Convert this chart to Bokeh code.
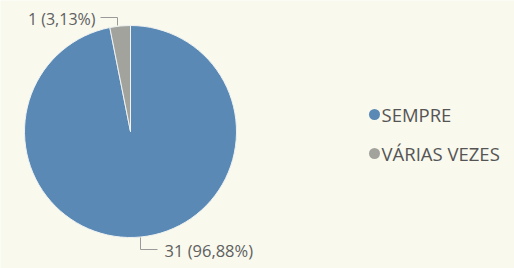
import math
from bokeh.plotting import figure
from bokeh.models import Range1d, ColumnDataSource
from bokeh.embed import file_html
from bokeh.resources import INLINE
from bokeh.core.properties import value

categories = ["SEMPRE", "VÁRIAS VEZES"]
counts = [31, 1]
pct_labels = ["96,88%", "3,13%"]
colors = ["#5a89b5", "#a3a39d"]

W, H = 514, 268
BG = "#f9f9ee"

p = figure(width=W, height=H, output_backend="svg", toolbar_location=None,
           x_range=Range1d(0, W), y_range=Range1d(0, H), min_border=0)
p.axis.visible = False
p.grid.visible = False
p.outline_line_color = None
p.background_fill_color = BG
p.border_fill_color = BG

cx, cy, r = 130, 137, 106
total = sum(counts)
starts, ends = [], []
a = math.pi / 2
for c in counts:
    starts.append(a)
    a -= 2 * math.pi * c / total
    ends.append(a)

src = ColumnDataSource(dict(cat=categories, start=starts, end=ends, color=colors))
p.wedge(x=cx, y=cy, radius=r, start_angle="start", end_angle="end", direction="clock",
        fill_color="color", line_color="#eef2f0", line_width=1, source=src)

lbl_font = value("Open Sans")
# small slice label (top-left)
p.line(x=[100, 117, 117], y=[H - 17, H - 17, H - 25], line_color="#9a9a9a", line_width=1)
p.text(x=[95], y=[H - 18], text=[f"{counts[1]} ({pct_labels[1]})"], text_align="right",
       text_baseline="middle", text_font=lbl_font, text_font_size="16px", text_color="#606060")
# large slice label (bottom)
p.line(x=[140, 140, 157], y=[H - 237, H - 249, H - 249], line_color="#9a9a9a", line_width=1)
p.text(x=[164], y=[H - 250], text=[f"{counts[0]} ({pct_labels[0]})"], text_align="left",
       text_baseline="middle", text_font=lbl_font, text_font_size="16.5px", text_color="#606060")

# legend
leg_y = [H - 114, H - 153]
p.scatter(x=[374, 374], y=leg_y, size=11, fill_color=colors, line_color=None)
p.text(x=[381, 381], y=leg_y, text=categories, text_align="left", text_baseline="middle",
       text_font=lbl_font, text_font_size="18.5px", text_color="#555555")

html = file_html(p, INLINE)
open("out.html", "w").write(html)
